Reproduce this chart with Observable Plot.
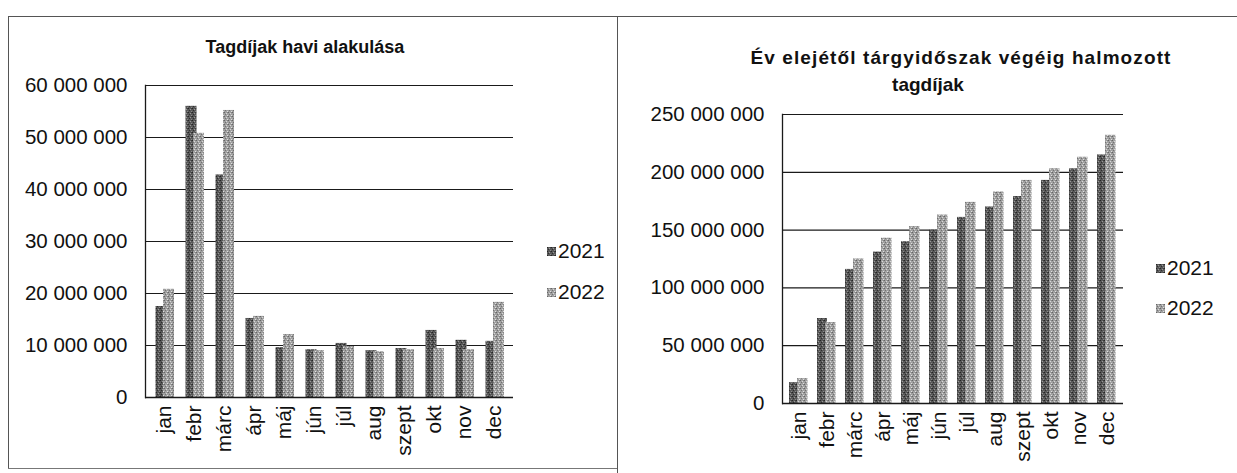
<!DOCTYPE html>
<html>
<head>
<meta charset="utf-8">
<script src="https://cdn.jsdelivr.net/npm/d3@7"></script>
<script src="https://cdn.jsdelivr.net/npm/@observablehq/plot@0.6"></script>
<style>
  html, body { margin: 0; padding: 0; background: #fff; }
  #root { position: relative; width: 1237px; height: 473px; overflow: hidden; background: #fff;
          font-family: "Liberation Sans", Arial, sans-serif; color: #111; }
  .abs { position: absolute; }
  .title { position: absolute; font-weight: bold; font-size: 18px; white-space: nowrap; transform: translate(-50%, -50%); }
  .leg { position: absolute; font-size: 21px; display: flex; align-items: center; transform: translateY(-50%); }
  .sw { width: 9px; height: 9px; margin-right: 2px; }
</style>
</head>
<body>
<svg width="0" height="0" style="position:absolute">
  <defs>
    <pattern id="p2021" width="4" height="4" patternUnits="userSpaceOnUse">
      <rect width="4" height="4" fill="#585858"/>
      <rect x="0" y="0" width="1" height="1" fill="#262626"/>
      <rect x="2" y="1" width="1" height="1" fill="#9a9a9a"/>
      <rect x="1" y="2" width="1" height="1" fill="#2e2e2e"/>
      <rect x="3" y="3" width="1" height="1" fill="#8a8a8a"/>
      <rect x="3" y="0" width="1" height="1" fill="#3c3c3c"/>
    </pattern>
    <pattern id="p2022" width="4" height="4" patternUnits="userSpaceOnUse">
      <rect width="4" height="4" fill="#a0a0a0"/>
      <rect x="0" y="0" width="1" height="1" fill="#666"/>
      <rect x="2" y="1" width="1" height="1" fill="#d8d8d8"/>
      <rect x="1" y="2" width="1" height="1" fill="#727272"/>
      <rect x="3" y="3" width="1" height="1" fill="#e0e0e0"/>
      <rect x="3" y="0" width="1" height="1" fill="#858585"/>
    </pattern>
  </defs>
</svg>
<div id="root">
  <!-- panel borders -->
  <div class="abs" style="left:8px;top:16px;width:1229px;height:0;border-top:1px solid #555"></div>
  <div class="abs" style="left:8px;top:16px;width:0;height:452px;border-left:1px solid #555"></div>
  <div class="abs" style="left:8px;top:468px;width:609px;height:0;border-top:1px solid #777"></div>
  <div class="abs" style="left:617px;top:16px;width:0;height:457px;border-left:1px solid #555"></div>

  <div id="left" class="abs" style="left:0;top:0"></div>
  <div id="right" class="abs" style="left:620px;top:0"></div>

  <div class="title" style="left:305px;top:47px">Tagdíjak havi alakulása</div>
  <div class="title" style="left:961px;top:58px;font-size:19px;letter-spacing:1.1px">Év elejétől tárgyidőszak végéig halmozott</div>
  <div class="title" style="left:928px;top:85px;font-size:19px">tagdíjak</div>

  <div class="leg" style="left:547px;top:251px"><svg class="sw"><rect width="9" height="9" fill="url(#p2021)"/></svg>2021</div>
  <div class="leg" style="left:547px;top:292px"><svg class="sw"><rect width="9" height="9" fill="url(#p2022)"/></svg>2022</div>
  <div class="leg" style="left:1156px;top:268px"><svg class="sw"><rect width="9" height="9" fill="url(#p2021)"/></svg>2021</div>
  <div class="leg" style="left:1156px;top:308px"><svg class="sw"><rect width="9" height="9" fill="url(#p2022)"/></svg>2022</div>
</div>
<script>
// ---- data ----
const months = ["jan", "febr", "márc", "ápr", "máj", "jún", "júl", "aug", "szept", "okt", "nov", "dec"];
const years = ["2021", "2022"];
// monthly membership fees (Ft)
const monthly2021 = [17500000, 56000000, 42800000, 15200000, 9600000, 9200000, 10400000, 9000000, 9400000, 12900000, 11000000, 10800000];
const monthly2022 = [20800000, 50800000, 55200000, 15600000, 12100000, 9000000, 9800000, 8800000, 9200000, 9400000, 9200000, 18300000];
// cumulative from start of year (Ft)
const cum2021 = [18000000, 73500000, 116000000, 131000000, 140000000, 150000000, 161000000, 170000000, 179000000, 193000000, 203000000, 215000000];
const cum2022 = [21500000, 70000000, 125000000, 143000000, 153000000, 163000000, 174000000, 183000000, 193000000, 203000000, 213000000, 232000000];
// tick values
const yTicksLeft = [0, 10000000, 20000000, 30000000, 40000000, 50000000, 60000000];
const yTicksRight = [0, 50000000, 100000000, 150000000, 200000000, 250000000];

const rows = (vals) => months.map((m, i) => ({month: m, value: vals[i]}));
const fmt = d => d3.format(",")(d).replace(/,/g, " ");
const baseStyle = {fontFamily: "Liberation Sans, Arial, sans-serif", fontSize: "20px", color: "#111", background: "transparent", overflow: "visible"};

function chart({w, mt, mb, ml, mr, domain, ticks, a, b, ins}) {
  return Plot.plot({
    width: w, height: 473,
    marginLeft: ml, marginRight: mr, marginTop: mt, marginBottom: mb,
    style: baseStyle,
    x: {domain: months, padding: 0, label: null},
    y: {domain, label: null},
    marks: [
      Plot.gridY(ticks, {stroke: "#1a1a1a", strokeOpacity: 1, strokeWidth: 1.2}),
      Plot.barY(rows(a), {x: "month", y: "value", fill: "url(#p2021)", insetLeft: ins[0], insetRight: ins[1]}),
      Plot.barY(rows(b), {x: "month", y: "value", fill: "url(#p2022)", insetLeft: ins[2], insetRight: ins[3]}),
      Plot.axisY(ticks, {tickSize: 0, tickPadding: 18, tickFormat: fmt, fontSize: 20.5}),
      Plot.axisX({tickSize: 0, tickPadding: 8, tickRotate: -90, fontSize: 21}),
      Plot.ruleY([0], {stroke: "#1a1a1a", strokeWidth: 1.3}),
      Plot.frame({anchor: "left", stroke: "#1a1a1a", strokeWidth: 1.3})
    ]
  });
}

document.getElementById("left").appendChild(chart({
  w: 530, mt: 85, mb: 76, ml: 145, mr: 17,
  domain: [0, 60000000], ticks: yTicksLeft, a: monthly2021, b: monthly2022,
  ins: [6.5, 12.5, 14, 5]
}));
document.getElementById("right").appendChild(chart({
  w: 520, mt: 114, mb: 70, ml: 162, mr: 17,
  domain: [0, 250000000], ticks: yTicksRight, a: cum2021, b: cum2022,
  ins: [4, 14, 12, 5.5]
}));
</script>
</body>
</html>
